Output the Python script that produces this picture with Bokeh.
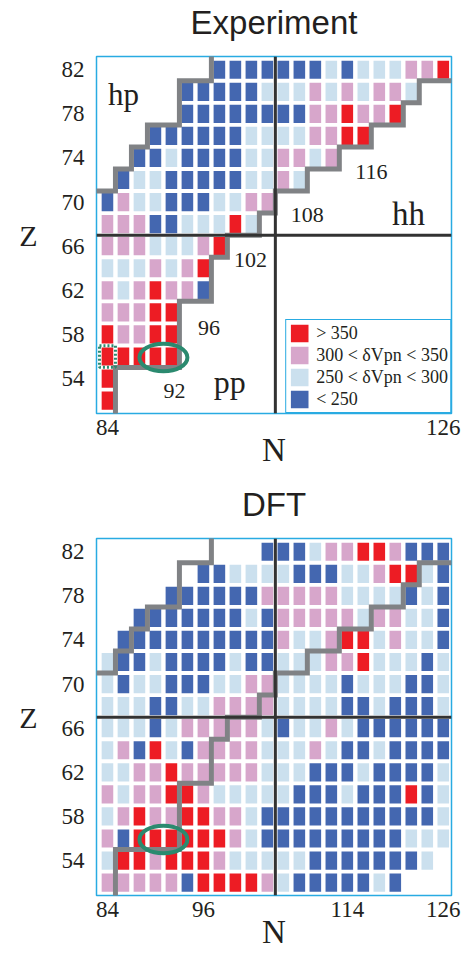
from bokeh.plotting import figure
from bokeh.models import Range1d, FixedTicker, Span, Label, Legend, LegendItem, ColumnDataSource, LinearAxis
from bokeh.layouts import column
from bokeh.embed import file_html
from bokeh.resources import INLINE
from bokeh.core.properties import value

# ---------------- data ----------------
N_values = list(range(84, 127, 2))          # 22 columns
Z_values = list(range(82, 51, -2))          # 16 rows, top to bottom
category_codes = ["R", "P", "L", "B"]
category_labels = ["> 350", "300 < \u03b4Vpn < 350", "250 < \u03b4Vpn < 300", "< 250"]
category_colors = ["#ed1c24", "#d7a6cb", "#cbe0ee", "#4467b0"]

# one string per Z row (82 ... 52), one char per N column (84 ... 126); '.' = no value
exp_rows = [
    ".......BBBBBBBLBLLLPPR",
    ".....BBBBBLLLPLPLPPL..",
    ".....BBBBBBBBPPRPPR...",
    "...BBBBBBLLLLPPRR.....",
    "..BBLBBBBLLPPLP.......",
    ".BLLBBBBBLLPL.........",
    "BPLLBBBLLPP...........",
    "PPPBBLLLRL............",
    "PPPLLLPR..............",
    "LLLPLPR...............",
    "PLPRPPB...............",
    "PPPRR.................",
    "RPPRR.................",
    "RRRRR.................",
    "R.....................",
    "R.....................",
]
dft_rows = [
    "..........BBBLPPRRPBBB",
    "......BBLLLLBBBLLPRRLB",
    "....BBBBBBPPPPPLLLLBLB",
    "..BBBBBBBLBPPPPPLPPLLB",
    ".BBBBBBBBBBPLLPRRLPLLB",
    "LBBLBBBBLBBLLLPPRLLLBL",
    "LBLLBBBLLPPLLLLBLLLBBL",
    "LLLBBLLPPPPLLLLBBLBBBL",
    "LLLBLPPPPPLBLLPLBBBBBB",
    "LPBRLBPPPPLLLPLBBLBBBB",
    "LLPPRPPPPPLLLBBBLBBBBL",
    "PLPPRRPLLLLLBBBLBBBRBL",
    "LPRPPRRPPLBBBBBBBBBBBL",
    "PBRRRRRRPLBBBBBBBBBLLL",
    "LRRPRRRPLLLLLBBBBBBBL.",
    "PPPPPBRRRRPLBBBBBLB...",
]

boundary_hp_N = [97, 97, 93, 93, 89, 89, 87, 87, 85, 85, 82]
boundary_hp_Z = [84, 81, 81, 77, 77, 75, 75, 73, 73, 71, 71]
boundary_hh_N = [128, 123, 123, 121, 121, 117, 117, 113, 113, 109, 109, 105, 105,
                 103, 103, 99, 99, 97, 97, 93, 93, 85, 85]
boundary_hh_Z = [81, 81, 79, 79, 77, 77, 75, 75, 73, 73, 71, 71, 69,
                 69, 67, 67, 65, 65, 61, 61, 55, 55, 50]
midshell_N = 105
midshell_Z = 67
highlight_N = [91]
highlight_Z = [55.9]
marked_N = [84]
marked_Z = [56]
exp_xticks = [84, 126]
dft_xticks = [84, 96, 114, 126]
z_ticks = [54, 58, 62, 66, 70, 74, 78, 82]

TEXT = "#231f20"
SERIF = "Liberation Serif"
SANS = "Liberation Sans"
HAS_ORIENT = "axis_label_orientation" in LinearAxis.properties()


def split_cells(rows):
    out = {c: {"N": [], "Z": []} for c in category_codes}
    for z, row in zip(Z_values, rows):
        for n, c in zip(N_values, row.ljust(len(N_values), ".")):
            if c in out:
                out[c]["N"].append(n)
                out[c]["Z"].append(z)
    return out


def panel(rows, xticks, height, top, bottom, title, legend):
    p = figure(width=471, height=height, title=None,
               x_range=Range1d(82.63, 127.03), y_range=Range1d(50.83, 83.2),
               output_backend="svg", toolbar_location=None,
               min_border_left=96, min_border_right=20,
               min_border_top=top, min_border_bottom=bottom)
    p.xgrid.visible = False
    p.ygrid.visible = False
    p.outline_line_color = "#29abe2"
    p.outline_line_width = 1.5
    p.outline_line_alpha = 1.0

    xax = p.below[0]
    yax = p.left[0]
    for ax, ticks, stand in ((xax, xticks, 0), (yax, z_ticks, 6)):
        ax.ticker = FixedTicker(ticks=ticks)
        ax.axis_line_color = None
        ax.major_tick_line_color = None
        ax.minor_tick_line_color = None
        ax.major_label_text_font = SERIF
        ax.major_label_text_font_size = "23px"
        ax.major_label_text_color = TEXT
        ax.major_label_standoff = stand
        ax.axis_label_text_font = SERIF
        ax.axis_label_text_font_style = "normal"
        ax.axis_label_text_color = TEXT

    xax.axis_label = "N"
    xax.axis_label_text_font_size = "33px"
    xax.axis_label_standoff = -6
    yax.axis_label = "Z"
    yax.axis_label_text_font_size = "30px"
    yax.axis_label_standoff = 21
    if HAS_ORIENT:
        yax.axis_label_orientation = "horizontal"

    # panel title, carried by a tick-less axis above the frame
    top_axis = LinearAxis(axis_label=title, ticker=FixedTicker(ticks=[]),
                          axis_line_color=None, major_tick_line_color=None,
                          minor_tick_line_color=None, major_tick_in=0, major_tick_out=0,
                          minor_tick_in=0, minor_tick_out=0, major_label_standoff=0,
                          axis_label_standoff=16, axis_label_text_font=SANS,
                          axis_label_text_font_size="33px", axis_label_text_font_style="normal",
                          axis_label_text_color=TEXT, axis_label_text_line_height=0.9)
    p.add_layout(top_axis, "above")

    cells = split_cells(rows)
    renderers = []
    for code, color in zip(category_codes, category_colors):
        src = ColumnDataSource(cells[code])
        r = p.rect(x="N", y="Z", width=1.45, height=1.65, source=src,
                   fill_color=color, line_color=None)
        renderers.append(r)

    p.add_layout(Span(location=midshell_N, dimension="height", line_color="#333333", line_width=3))
    p.add_layout(Span(location=midshell_Z, dimension="width", line_color="#333333", line_width=3))

    for bn, bz in ((boundary_hp_N, boundary_hp_Z), (boundary_hh_N, boundary_hh_Z)):
        p.line(bn, bz, line_color="#808285", line_width=5, line_join="miter")

    p.ellipse(x=highlight_N, y=highlight_Z, width=6.0, height=2.5,
              fill_color=None, line_color="#2b8a6f", line_width=4)

    if legend:
        items = [LegendItem(label=value(lab), renderers=[r])
                 for lab, r in zip(category_labels, renderers)]
        lg = Legend(items=items, location="bottom_right", margin=0, padding=2, spacing=0,
                    glyph_width=22, glyph_height=22, label_height=21, label_standoff=6,
                    border_line_color="#29abe2", border_line_width=1.5, border_line_alpha=1.0,
                    label_text_font=SERIF, label_text_font_size="18px", label_text_color=TEXT,
                    background_fill_alpha=1.0)
        p.add_layout(lg)
    return p


p1 = panel(exp_rows, exp_xticks, 476, 53, 63, "Experiment", True)
p1.rect(x=marked_N, y=marked_Z, width=2.0, height=1.95, fill_color=None,
        line_color="#2b8a6f", line_width=3, line_dash="2 2")
for txt, n, z, size in (("hp", 86.0, 79.75, "31px"), ("hh", 121.66, 68.95, "33px"),
                        ("pp", 99.3, 53.71, "32px"), ("116", 117.0, 72.70, "22px"),
                        ("108", 109.0, 68.8, "22px"), ("102", 101.9, 64.75, "22px"),
                        ("96", 96.7, 58.6, "22px"), ("92", 92.4, 52.9, "22px")):
    p1.add_layout(Label(x=n, y=z, text=txt, text_font=SERIF, text_font_size=size,
                        text_color=TEXT, text_align="center", text_baseline="alphabetic"))

p2 = panel(dft_rows, dft_xticks, 478, 62, 59, "DFT", False)

layout = column(p1, p2)
open("out.html", "w").write(file_html(layout, INLINE))
